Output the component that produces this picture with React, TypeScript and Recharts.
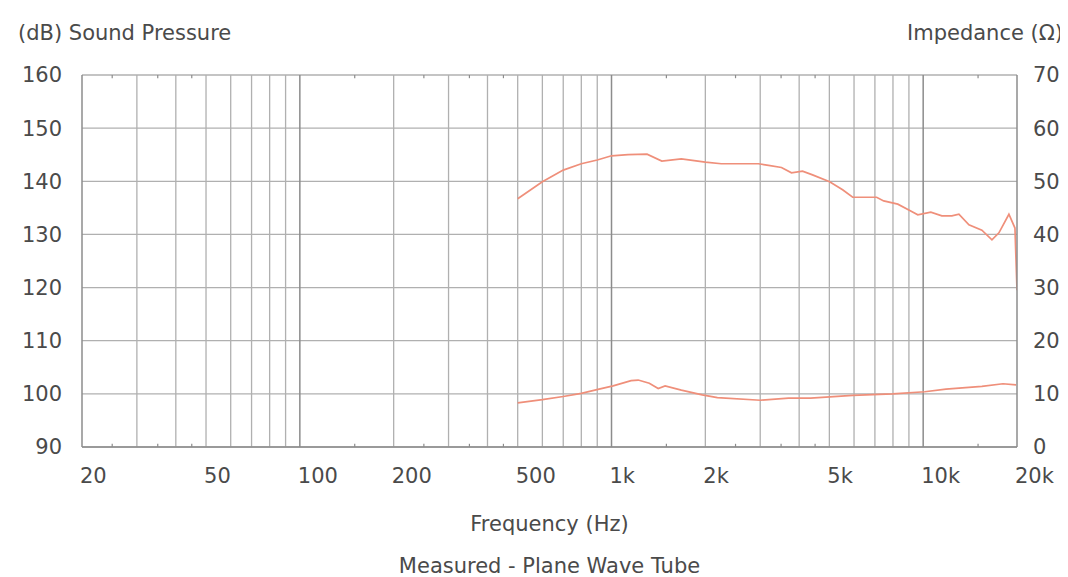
import React from "react";
import { ComposedChart, Line, XAxis, YAxis, CartesianGrid, ReferenceLine } from "recharts";

// Frequency ticks (Hz) and their labels
const xTicks = [20, 50, 100, 200, 500, 1000, 2000, 5000, 10000, 20000];
const xTickLabels = ["20", "50", "100", "200", "500", "1k", "2k", "5k", "10k", "20k"];
// Vertical gridlines
const gridFreqs = [
  30, 40, 50, 60, 70, 80, 90,
  200, 300, 400, 500, 600, 700, 800, 900,
  2000, 3000, 4000, 5000, 6000, 7000, 8000, 9000,
];
const majorFreqs = [100, 1000, 10000];
// Small tick marks on top/bottom edges
const minorFreqs = [25, 35, 45, 150, 250, 350, 450, 1500, 2500, 3500, 4500, 15000];

const splTicks = [90, 100, 110, 120, 130, 140, 150, 160];
const impTicks = [0, 10, 20, 30, 40, 50, 60, 70];

// Sound pressure (dB)
const splFreq = [500, 600, 700, 800, 900, 1000, 1130, 1300, 1450, 1675, 2000, 2250, 2960, 3190, 3510, 3780, 4100, 4416, 5010, 5514, 5940, 7090, 7470, 8290, 9120, 9610, 10580, 11480, 12360, 13020, 14020, 15430, 16620, 17500, 18840, 19700, 20000];
const splValues = [136.7, 139.9, 142.1, 143.3, 144.0, 144.8, 145.0, 145.1, 143.8, 144.2, 143.6, 143.3, 143.3, 143.0, 142.6, 141.6, 141.9, 141.2, 139.9, 138.4, 137.0, 137.0, 136.3, 135.7, 134.4, 133.7, 134.2, 133.5, 133.5, 133.8, 131.8, 130.8, 129.0, 130.3, 133.8, 131.2, 119.5];

// Impedance (ohm)
const impFreq = [500, 600, 700, 800, 912, 1012, 1156, 1218, 1322, 1412, 1486, 1675, 1955, 2186, 3005, 3698, 4352, 5940, 7980, 10120, 11830, 15430, 18030, 19860];
const impValues = [8.3, 8.9, 9.5, 10.1, 10.9, 11.5, 12.5, 12.6, 12.0, 11.0, 11.5, 10.7, 9.8, 9.3, 8.8, 9.2, 9.2, 9.7, 10.0, 10.4, 10.9, 11.4, 11.9, 11.7];

const splData = splFreq.map((f, i) => ({ f, v: splValues[i] }));
const impData = impFreq.map((f, i) => ({ f, v: impValues[i] }));

const FONT = "'DejaVu Sans', sans-serif";
const TEXT = "#4a4a4a";
const GRID = "#b0b0b0";
const MAJOR = "#8c8c8c";
const CURVE = "#ef8f7a";

const XTick = (props: any) => {
  const { x, y, payload } = props;
  const idx = xTicks.indexOf(payload.value);
  return (
    <text x={x - 2} y={y + 29} dy="0.355em" textAnchor="start" fill={TEXT} fontSize={21} fontFamily={FONT}>
      {idx >= 0 ? xTickLabels[idx] : payload.value}
    </text>
  );
};

const YTickLeft = (props: any) => {
  const { x, y, payload } = props;
  return (
    <text x={x} y={y} dy="0.355em" textAnchor="end" fill={TEXT} fontSize={21} fontFamily={FONT}>
      {payload.value}
    </text>
  );
};

const YTickRight = (props: any) => {
  const { x, y, payload } = props;
  return (
    <text x={x} y={y} dy="0.355em" textAnchor="start" fill={TEXT} fontSize={21} fontFamily={FONT}>
      {payload.value}
    </text>
  );
};

const titleStyle: React.CSSProperties = {
  position: "absolute",
  fontFamily: FONT,
  fontSize: 21,
  color: TEXT,
  lineHeight: "24px",
  height: 24,
  whiteSpace: "nowrap",
};

export default function App() {
  return (
    <div style={{ position: "relative", width: 1060, height: 569 }}>
      <ComposedChart width={1060} height={569} margin={{ top: 67, right: 0, bottom: 0, left: 0 }}>
        <CartesianGrid yAxisId="spl" vertical={false} stroke={GRID} strokeWidth={1.3} />
        <XAxis
          dataKey="f"
          type="number"
          scale="log"
          domain={[20, 20000]}
          ticks={xTicks}
          allowDataOverflow
          height={130}
          tickLine={false}
          tickSize={0}
          tickMargin={0}
          axisLine={{ stroke: MAJOR, strokeWidth: 1.5 }}
          tick={<XTick />}
          interval={0}
        />
        <YAxis
          yAxisId="spl"
          domain={[90, 160]}
          ticks={splTicks}
          width={74}
          tickLine={false}
          tickSize={0}
          tickMargin={20}
          axisLine={{ stroke: MAJOR, strokeWidth: 1.5 }}
          tick={<YTickLeft />}
          interval={0}
        />
        <YAxis
          yAxisId="imp"
          orientation="right"
          domain={[0, 70]}
          ticks={impTicks}
          width={51}
          tickLine={false}
          tickSize={0}
          tickMargin={16}
          axisLine={{ stroke: MAJOR, strokeWidth: 1.5 }}
          tick={<YTickRight />}
          interval={0}
        />
        {gridFreqs.map((f) => (
          <ReferenceLine key={`g${f}`} x={f} yAxisId="spl" stroke={GRID} strokeWidth={1.3} />
        ))}
        {majorFreqs.map((f) => (
          <ReferenceLine key={`m${f}`} x={f} yAxisId="spl" stroke={MAJOR} strokeWidth={1.5} />
        ))}
        {minorFreqs.map((f) => (
          <ReferenceLine
            key={`tb${f}`}
            yAxisId="spl"
            segment={[{ x: f, y: 90 }, { x: f, y: 90.6 }]}
            stroke={MAJOR}
            strokeWidth={1.2}
          />
        ))}
        {minorFreqs.map((f) => (
          <ReferenceLine
            key={`tt${f}`}
            yAxisId="spl"
            segment={[{ x: f, y: 159.4 }, { x: f, y: 160 }]}
            stroke={MAJOR}
            strokeWidth={1.2}
          />
        ))}
        <Line
          data={splData}
          dataKey="v"
          yAxisId="spl"
          type="linear"
          stroke={CURVE}
          strokeWidth={1.7}
          dot={false}
          activeDot={false}
          isAnimationActive={false}
        />
        <Line
          data={impData}
          dataKey="v"
          yAxisId="imp"
          type="linear"
          stroke={CURVE}
          strokeWidth={1.7}
          dot={false}
          activeDot={false}
          isAnimationActive={false}
        />
      </ComposedChart>
      <div style={{ ...titleStyle, left: 10, top: 13 }}>(dB) Sound Pressure</div>
      <div style={{ ...titleStyle, right: 5, top: 13 }}>Impedance (Ω)</div>
      <div style={{ ...titleStyle, left: 74, width: 935, textAlign: "center", top: 504 }}>Frequency (Hz)</div>
      <div style={{ ...titleStyle, left: 74, width: 935, textAlign: "center", top: 546 }}>Measured - Plane Wave Tube</div>
    </div>
  );
}
